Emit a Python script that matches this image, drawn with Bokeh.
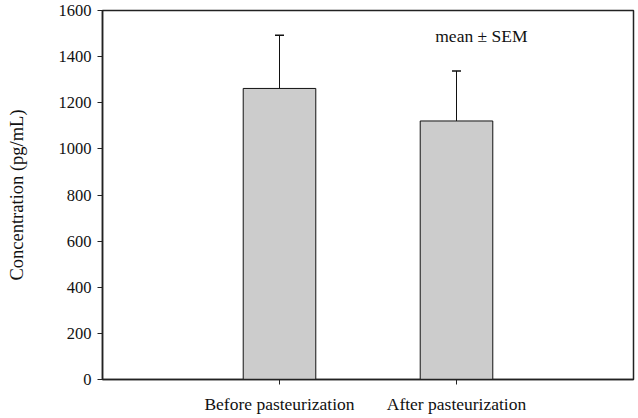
from bokeh.plotting import figure
from bokeh.models import ColumnDataSource, FactorRange, Range1d, Whisker, TeeHead, Label, FixedTicker
from bokeh.embed import file_html
from bokeh.resources import INLINE

categories = ["Before pasteurization", "After pasteurization"]
means = [1262, 1121]
sems = [231, 217]
y_ticks = [0, 200, 400, 600, 800, 1000, 1200, 1400, 1600]

FONT = "Liberation Serif"

src = ColumnDataSource(dict(
    cat=categories,
    mean=means,
    upper=[m + s for m, s in zip(means, sems)],
))

p = figure(
    x_range=FactorRange(*categories, range_padding=0.5),
    y_range=Range1d(0, 1600),
    frame_width=531, frame_height=369,
    min_border_left=102, min_border_top=10, min_border_right=5, min_border_bottom=39,
    output_backend="svg", toolbar_location=None,
)

p.vbar(x="cat", top="mean", width=0.41, source=src,
       fill_color="#cccccc", line_color="#111111", line_width=1)

w = Whisker(base="cat", lower="mean", upper="upper", source=src, dimension="height",
            line_color="#111111", line_width=1,
            upper_head=TeeHead(size=9, line_color="#111111", line_width=1.5),
            lower_head=None)
p.add_layout(w)

p.add_layout(Label(x=1.38, y=1490, text="mean ± SEM", text_font=FONT,
                   text_font_size="17.5px", text_color="#111111", text_baseline="alphabetic"))

p.xgrid.visible = False
p.ygrid.visible = False
p.outline_line_color = "#222222"
p.outline_line_width = 1.5

p.yaxis.ticker = FixedTicker(ticks=y_ticks)
p.yaxis.axis_label = "Concentration (pg/mL)"
for ax in (p.xaxis[0], p.yaxis[0]):
    ax.axis_line_color = "#222222"
    ax.axis_line_width = 1.5
    ax.major_tick_line_color = "#222222"
    ax.major_tick_out = 5
    ax.major_tick_in = 0
    ax.minor_tick_line_color = None
    ax.major_label_text_font = FONT
    ax.major_label_text_color = "#111111"
    ax.axis_label_text_font = FONT
    ax.axis_label_text_font_size = "18.5px"
    ax.axis_label_text_font_style = "normal"
    ax.axis_label_text_color = "#111111"
p.xaxis.major_label_text_font_size = "17.5px"
p.yaxis.major_label_text_font_size = "16.5px"
p.yaxis.major_label_standoff = 6
p.yaxis.axis_label_standoff = 29
p.xaxis.major_label_standoff = 9

open("out.html", "w").write(file_html(p, INLINE))
